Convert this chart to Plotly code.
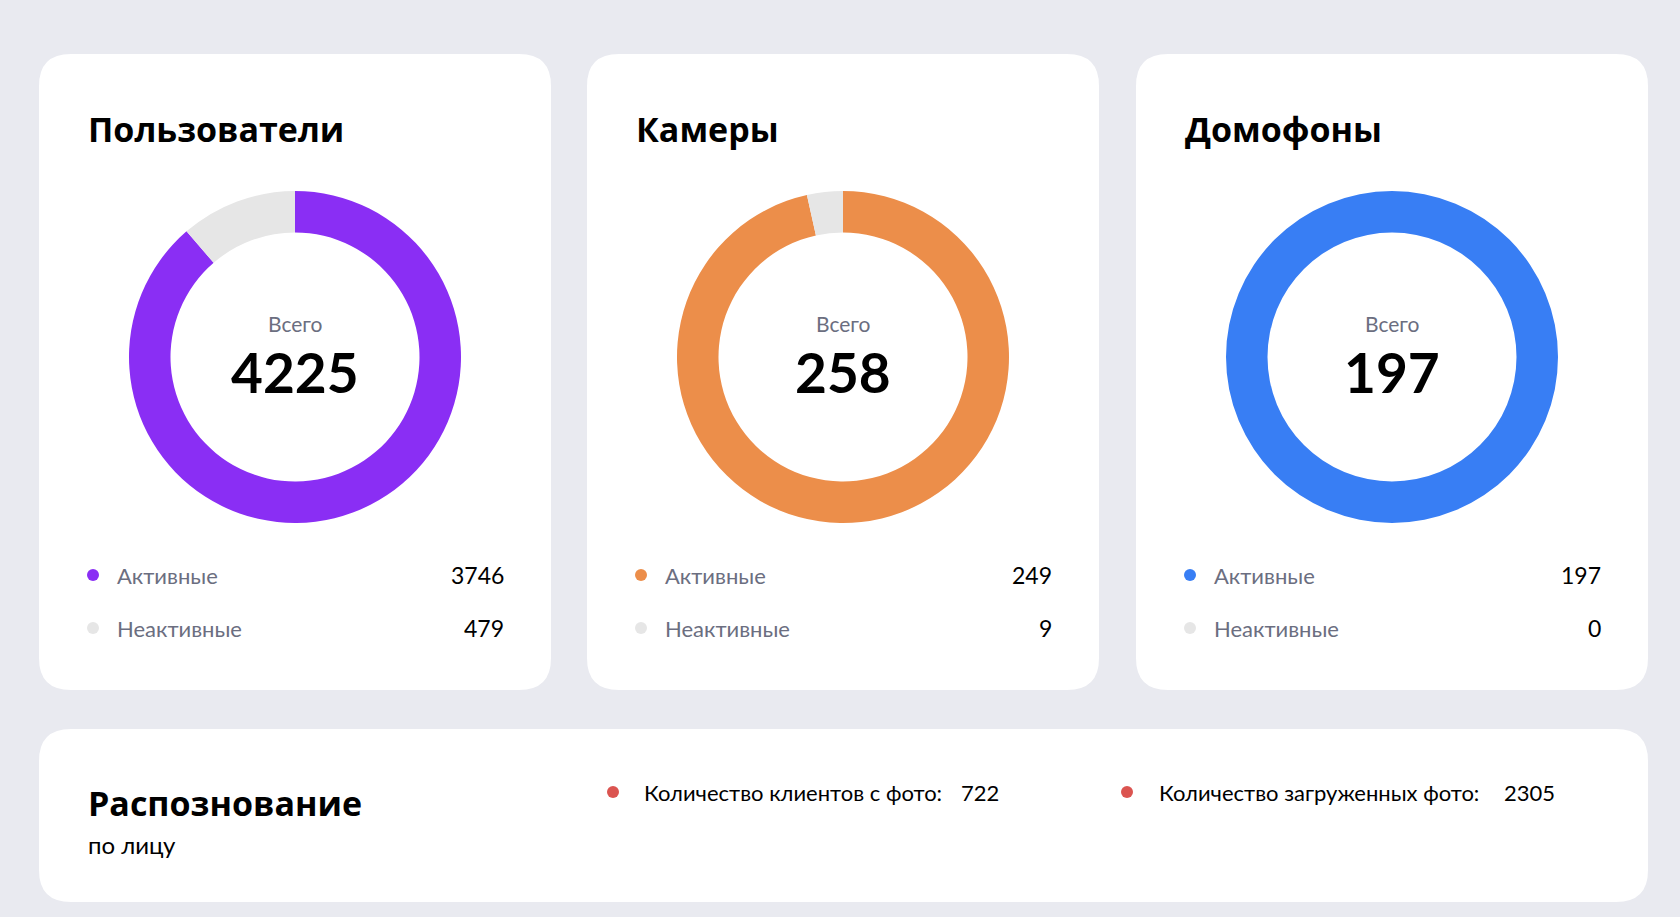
import plotly.graph_objects as go

# ---- data ----
card_titles = ["Пользователи", "Камеры", "Домофоны"]
status_labels = ["Активные", "Неактивные"]
active_values = [3746, 249, 197]
inactive_values = [479, 9, 0]
active_colors = ["#8A2EF4", "#EC8E4A", "#387EF4"]
inactive_color = "#E6E6E6"
total_label = "Всего"

face_title = "Распознование"
face_subtitle = "по лицу"
face_labels = ["Количество клиентов с фото:", "Количество загруженных фото:"]
face_values = [722, 2305]
face_dot_color = "#DB5450"

# ---- layout constants (pixels) ----
W, H = 1680, 917
BG = "#E9EAF0"
FONT = "Lato"
TITLE_FONT = "Open Sans"
GRAY_TXT = "#6B6E80"

cards_x = [(39, 551), (587, 1099), (1136, 1648)]
card_top, card_bot = 54, 690
bottom_card = (39, 729, 1648, 902)
R_CORNER = 32


def rrect(x0, y0, x1, y1, r):
    return (f"M {x0+r},{y0} L {x1-r},{y0} Q {x1},{y0} {x1},{y0+r} "
            f"L {x1},{y1-r} Q {x1},{y1} {x1-r},{y1} L {x0+r},{y1} "
            f"Q {x0},{y1} {x0},{y1-r} L {x0},{y0+r} Q {x0},{y0} {x0+r},{y0} Z")


fig = go.Figure()
shapes = []
annotations = []

for (x0, x1) in cards_x:
    shapes.append(dict(type="path", path=rrect(x0, card_top, x1, card_bot, R_CORNER),
                       xref="x", yref="y", fillcolor="white", line=dict(width=0), layer="below"))
bx0, by0, bx1, by1 = bottom_card
shapes.append(dict(type="path", path=rrect(bx0, by0, bx1, by1, R_CORNER),
                   xref="x", yref="y", fillcolor="white", line=dict(width=0), layer="below"))

RADIUS = 166
CY = 357
dot_x, dot_y = [], []
dot_c = []
for i, (x0, x1) in enumerate(cards_x):
    cx = (x0 + x1) / 2
    vals = [active_values[i], inactive_values[i]]
    total = sum(vals)
    fig.add_trace(go.Pie(
        values=vals, labels=status_labels, sort=False, direction="clockwise",
        rotation=0, hole=0.75, marker=dict(colors=[active_colors[i], inactive_color], line=dict(width=0)),
        textinfo="none", hoverinfo="label+value", showlegend=False,
        domain=dict(x=[(cx - RADIUS) / W, (cx + RADIUS) / W],
                    y=[(H - CY - RADIUS) / H, (H - CY + RADIUS) / H]),
    ))
    # title
    annotations.append(dict(x=x0 + 47, y=129, text=f"<b>{card_titles[i]}</b>", xanchor="left", yanchor="middle",
                            showarrow=False, font=dict(family=TITLE_FONT, size=34, color="#000")))
    annotations.append(dict(x=cx, y=323, text=total_label, xanchor="center", yanchor="middle",
                            showarrow=False, font=dict(family=FONT, size=21, color=GRAY_TXT)))
    annotations.append(dict(x=cx, y=372, text=f"<b>{total}</b>", xanchor="center", yanchor="middle",
                            showarrow=False, font=dict(family=FONT, size=55, color="#000")))
    for j, (lab, v, col) in enumerate(zip(status_labels, vals, [active_colors[i], inactive_color])):
        yy = 575 + j * 53
        dot_x.append(x0 + 54)
        dot_y.append(yy)
        dot_c.append(col)
        annotations.append(dict(x=x0 + 76, y=yy, text=lab, xanchor="left", yanchor="middle",
                                showarrow=False, font=dict(family=FONT, size=22, color=GRAY_TXT)))
        annotations.append(dict(x=x1 - 45, y=yy, text=str(v), xanchor="right", yanchor="middle",
                                showarrow=False, font=dict(family=FONT, size=23, color="#000")))

# bottom card
annotations.append(dict(x=86, y=803, text=f"<b>{face_title}</b>", xanchor="left", yanchor="middle",
                        showarrow=False, font=dict(family=TITLE_FONT, size=34, color="#000")))
annotations.append(dict(x=86, y=844, text=face_subtitle, xanchor="left", yanchor="middle",
                        showarrow=False, font=dict(family=FONT, size=24, color="#000")))
face_dot_x = [613, 1127]
face_text_x = [642, 1157]
face_val_x = [959, 1502]
for k in range(2):
    dot_x.append(face_dot_x[k])
    dot_y.append(792)
    dot_c.append(face_dot_color)
    annotations.append(dict(x=face_text_x[k], y=792, text=face_labels[k], xanchor="left", yanchor="middle",
                            showarrow=False, font=dict(family=FONT, size=22, color="#000")))
    annotations.append(dict(x=face_val_x[k], y=792, text=str(face_values[k]), xanchor="left", yanchor="middle",
                            showarrow=False, font=dict(family=FONT, size=22, color="#000")))

fig.add_trace(go.Scatter(x=dot_x, y=dot_y, mode="markers",
                         marker=dict(size=12, color=dot_c, line=dict(width=0)),
                         hoverinfo="skip", showlegend=False))

fig.update_layout(
    width=W, height=H, margin=dict(l=0, r=0, t=0, b=0),
    paper_bgcolor=BG, plot_bgcolor="rgba(0,0,0,0)",
    xaxis=dict(range=[0, W], visible=False, fixedrange=True),
    yaxis=dict(range=[H, 0], visible=False, fixedrange=True),
    shapes=shapes, annotations=annotations, showlegend=False,
)

fig.write_html("out.html")
